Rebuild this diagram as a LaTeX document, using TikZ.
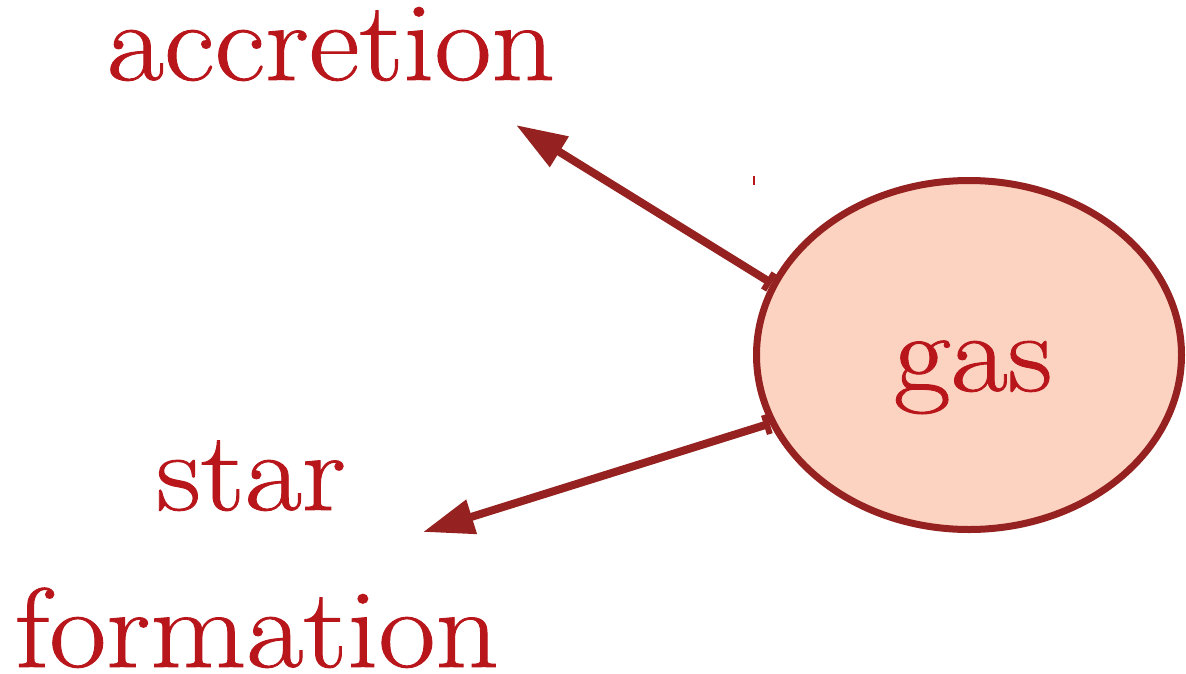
\documentclass[tikz,border=0pt]{standalone}
\usepackage{fontspec}
\setmainfont{Latin Modern Roman}[FakeStretch=1.1, FakeBold=0.8]
\usetikzlibrary{shapes.geometric,arrows.meta}
\definecolor{txtred}{RGB}{185,22,28}
\definecolor{edgered}{RGB}{149,34,32}
\definecolor{gasfill}{RGB}{252,211,193}
\tikzset{
  lbl/.style={anchor=base, inner sep=0pt, text=txtred, font=\fontsize{113}{113}\selectfont},
  flow/.style={draw=edgered, line width=8pt, {Bar[width=20pt,line width=6pt]}-{Triangle[length=51pt,width=34pt]}},
  gasbox/.style={ellipse, draw=edgered, fill=gasfill, line width=7pt, inner sep=0pt, minimum width=425pt, minimum height=349pt}
}
\begin{document}
\begin{tikzpicture}[x=1pt,y=-1pt]
\useasboundingbox (0,0) rectangle (1186,673);
\node[gasbox] (gas) at (969,355) {};
\node[lbl] (gaslabel) at (973,391) {gas};
\node[lbl] (accretion) at (331,80) {accretion};
\node[lbl] (star) at (251,510) {star};
\node[lbl] (formation) at (257,667) {formation};
\coordinate (tipA) at (516,125);
\coordinate (tipS) at (423,532);
\draw[flow] (gas.160) -- (tipA);
\draw[flow] (gas.199) -- (tipS);
\coordinate (tickA) at (754,176);
\coordinate (tickB) at (754,185);
\draw[draw=txtred, line width=1.5pt] (tickA) -- (tickB);
\end{tikzpicture}
\end{document}
